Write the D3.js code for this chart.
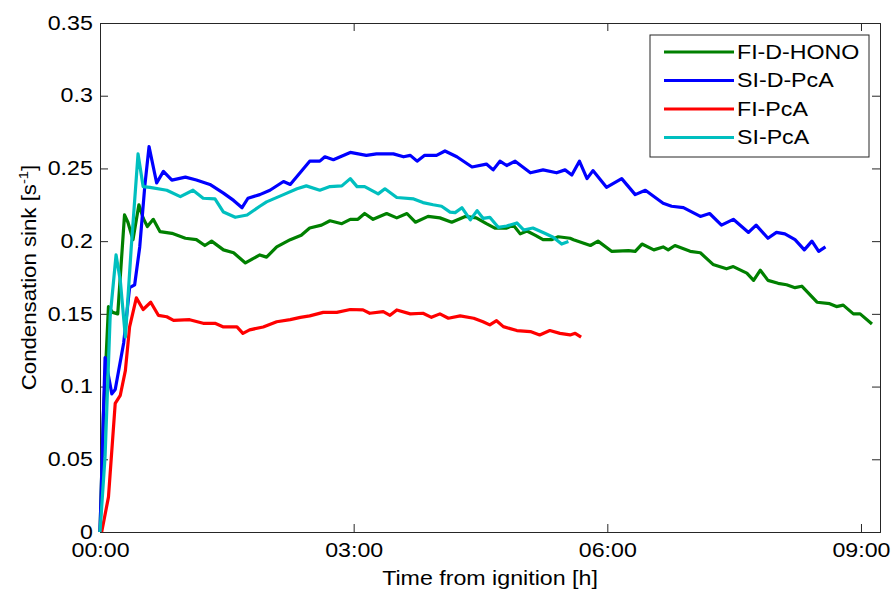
<!DOCTYPE html>
<html>
<head>
<meta charset="utf-8">
<script src="https://cdn.jsdelivr.net/npm/d3@7"></script>
<style>
  body { margin: 0; background: #fff; }
  svg text { font-family: "Liberation Sans", Arial, sans-serif; fill: #000; }
</style>
</head>
<body>
<div id="chart"></div>
<script>
// time in hours from ignition, condensation sink in s^-1
const greenT = [0, 0.04, 0.10, 0.15, 0.21, 0.29, 0.33, 0.39, 0.46, 0.51, 0.56, 0.63, 0.71, 0.85, 1.01, 1.14, 1.24, 1.32, 1.46, 1.58, 1.72, 1.81, 1.89, 1.97, 2.09, 2.25, 2.38, 2.48, 2.62, 2.72, 2.86, 2.96, 3.05, 3.13, 3.23, 3.39, 3.51, 3.63, 3.73, 3.88, 4.02, 4.16, 4.32, 4.45, 4.57, 4.67, 4.81, 4.89, 4.97, 5.05, 5.15, 5.24, 5.34, 5.42, 5.56, 5.60, 5.80, 5.89, 6.05, 6.25, 6.33, 6.41, 6.55, 6.66, 6.72, 6.80, 6.98, 7.10, 7.25, 7.41, 7.49, 7.65, 7.73, 7.81, 7.90, 8.02, 8.12, 8.22, 8.30, 8.48, 8.63, 8.71, 8.79, 8.91, 8.99, 9.13];
const greenV = [0, 0.08, 0.155, 0.151, 0.150, 0.218, 0.213, 0.201, 0.225, 0.216, 0.210, 0.215, 0.2065, 0.2054, 0.202, 0.201, 0.197, 0.200, 0.194, 0.192, 0.185, 0.188, 0.1905, 0.189, 0.196, 0.201, 0.204, 0.209, 0.211, 0.214, 0.212, 0.215, 0.215, 0.219, 0.215, 0.219, 0.216, 0.219, 0.213, 0.217, 0.216, 0.213, 0.217, 0.216, 0.212, 0.209, 0.209, 0.211, 0.205, 0.207, 0.204, 0.201, 0.201, 0.203, 0.202, 0.201, 0.197, 0.200, 0.193, 0.1935, 0.193, 0.198, 0.194, 0.196, 0.194, 0.197, 0.193, 0.192, 0.184, 0.181, 0.1825, 0.178, 0.173, 0.180, 0.173, 0.171, 0.170, 0.168, 0.169, 0.158, 0.157, 0.155, 0.156, 0.150, 0.150, 0.143];

const blueT = [0, 0.06, 0.14, 0.18, 0.28, 0.35, 0.41, 0.47, 0.53, 0.58, 0.67, 0.75, 0.85, 1.01, 1.14, 1.30, 1.46, 1.58, 1.68, 1.75, 1.89, 2.01, 2.17, 2.25, 2.48, 2.60, 2.66, 2.76, 2.96, 3.15, 3.27, 3.47, 3.59, 3.67, 3.75, 3.84, 3.98, 4.08, 4.22, 4.40, 4.57, 4.65, 4.73, 4.81, 4.91, 5.09, 5.24, 5.40, 5.50, 5.58, 5.67, 5.76, 5.83, 5.99, 6.17, 6.33, 6.45, 6.66, 6.76, 6.90, 7.10, 7.21, 7.35, 7.49, 7.67, 7.76, 7.90, 8.00, 8.10, 8.22, 8.33, 8.42, 8.50, 8.58];
const blueV = [0, 0.120, 0.095, 0.098, 0.130, 0.168, 0.170, 0.196, 0.238, 0.265, 0.240, 0.248, 0.242, 0.244, 0.242, 0.239, 0.233, 0.228, 0.223, 0.2295, 0.232, 0.235, 0.241, 0.239, 0.255, 0.255, 0.258, 0.256, 0.261, 0.259, 0.260, 0.260, 0.258, 0.259, 0.255, 0.259, 0.259, 0.262, 0.258, 0.251, 0.253, 0.249, 0.255, 0.252, 0.255, 0.247, 0.249, 0.247, 0.249, 0.2455, 0.255, 0.243, 0.2485, 0.237, 0.243, 0.232, 0.235, 0.226, 0.224, 0.223, 0.217, 0.219, 0.211, 0.215, 0.206, 0.211, 0.202, 0.206, 0.205, 0.201, 0.194, 0.200, 0.193, 0.196];

const redT = [0.02, 0.10, 0.18, 0.24, 0.30, 0.35, 0.43, 0.51, 0.60, 0.69, 0.79, 0.87, 1.06, 1.22, 1.36, 1.46, 1.62, 1.69, 1.77, 1.93, 2.09, 2.25, 2.37, 2.48, 2.64, 2.80, 2.96, 3.11, 3.19, 3.35, 3.43, 3.51, 3.67, 3.82, 3.92, 4.02, 4.12, 4.26, 4.42, 4.53, 4.61, 4.69, 4.77, 4.93, 5.09, 5.20, 5.32, 5.44, 5.56, 5.62, 5.69];
const redV = [0, 0.024, 0.0885, 0.094, 0.111, 0.141, 0.161, 0.153, 0.158, 0.149, 0.148, 0.1455, 0.146, 0.1435, 0.1435, 0.141, 0.141, 0.1366, 0.139, 0.141, 0.1446, 0.146, 0.1476, 0.1486, 0.151, 0.151, 0.153, 0.1527, 0.1504, 0.1515, 0.149, 0.1527, 0.150, 0.1504, 0.1476, 0.150, 0.147, 0.1486, 0.147, 0.1446, 0.1424, 0.1453, 0.1412, 0.1385, 0.1378, 0.1355, 0.1385, 0.1366, 0.1355, 0.1366, 0.134];

const cyanT = [0, 0.06, 0.12, 0.19, 0.24, 0.30, 0.37, 0.45, 0.51, 0.59, 0.79, 0.95, 1.10, 1.22, 1.36, 1.46, 1.60, 1.74, 1.89, 1.97, 2.17, 2.33, 2.44, 2.60, 2.72, 2.86, 2.96, 3.04, 3.13, 3.29, 3.37, 3.51, 3.71, 3.82, 3.94, 4.04, 4.14, 4.20, 4.28, 4.38, 4.46, 4.53, 4.61, 4.71, 4.81, 4.93, 5.01, 5.12, 5.26, 5.36, 5.46, 5.54];
const cyanV = [0, 0.052, 0.148, 0.1905, 0.173, 0.134, 0.196, 0.260, 0.2375, 0.237, 0.235, 0.2306, 0.235, 0.2295, 0.229, 0.220, 0.2164, 0.218, 0.224, 0.227, 0.232, 0.236, 0.238, 0.235, 0.2375, 0.238, 0.243, 0.2375, 0.2375, 0.2325, 0.236, 0.230, 0.229, 0.2265, 0.225, 0.224, 0.220, 0.2196, 0.223, 0.2146, 0.221, 0.2157, 0.2164, 0.2095, 0.2104, 0.2125, 0.2077, 0.209, 0.2054, 0.2027, 0.198, 0.1997];

const seriesNames = ['FI-D-HONO', 'SI-D-PcA', 'FI-PcA', 'SI-PcA'];
const seriesColors = ['#008000', '#0000ff', '#ff0000', '#00bfbf'];

const xTickValues = [0, 3, 6, 9];
const xTickLabels = ['00:00', '03:00', '06:00', '09:00'];
const yTickValues = [0, 0.05, 0.1, 0.15, 0.2, 0.25, 0.3, 0.35];
const yTickLabels = ['0', '0.05', '0.1', '0.15', '0.2', '0.25', '0.3', '0.35'];

const width = 893;
const height = 594;
const margin = {left: 100, right: 13, top: 23, bottom: 62};
const fontSize = '19.5px';
const stretch = 'scale(1.19,1)'; // the exported figure has slightly wide text

const svg = d3.select('#chart')
  .append('svg')
  .attr('width', width)
  .attr('height', height);

const xScale = d3.scaleLinear().domain([0, 9.225]).range([margin.left, width - margin.right]);
const yScale = d3.scaleLinear().domain([0, 0.35]).range([height - margin.bottom, margin.top]);

const axisColor = '#262626';

// axes (ticks point inward, like matlab)
const xAxis = d3.axisBottom(xScale)
  .tickValues(xTickValues)
  .tickFormat((d, i) => xTickLabels[i])
  .tickSize(-8)
  .tickPadding(11);
const yAxis = d3.axisLeft(yScale)
  .tickValues(yTickValues)
  .tickFormat((d, i) => yTickLabels[i])
  .tickSize(-8)
  .tickPadding(6);

svg.append('g')
  .attr('transform', 'translate(0,' + (height - margin.bottom) + ')')
  .call(xAxis);
svg.append('g')
  .attr('transform', 'translate(' + margin.left + ',0)')
  .call(yAxis);
svg.append('g')
  .attr('transform', 'translate(0,' + margin.top + ')')
  .call(d3.axisTop(xScale).tickValues(xTickValues).tickFormat('').tickSize(-8));
svg.append('g')
  .attr('transform', 'translate(' + (width - margin.right) + ',0)')
  .call(d3.axisRight(yScale).tickValues(yTickValues).tickFormat('').tickSize(-8));

svg.selectAll('.domain, .tick line').attr('stroke', axisColor);
svg.selectAll('.tick text')
  .style('font-size', fontSize)
  .attr('fill', '#000')
  .attr('transform', stretch);

// lines
const allSeries = [
  greenT.map((t, i) => [t, greenV[i]]),
  blueT.map((t, i) => [t, blueV[i]]),
  redT.map((t, i) => [t, redV[i]]),
  cyanT.map((t, i) => [t, cyanV[i]])
];

const line = d3.line()
  .x(d => xScale(d[0]))
  .y(d => yScale(d[1]));

svg.append('g')
  .selectAll('path')
  .data(allSeries)
  .enter()
  .append('path')
  .attr('d', line)
  .attr('fill', 'none')
  .attr('stroke', (d, i) => seriesColors[i])
  .attr('stroke-width', 3.2)
  .attr('stroke-linejoin', 'round');

// axis titles
svg.append('text')
  .attr('transform', 'translate(' + ((xScale(0) + xScale(9.225)) / 2) + ',585) ' + stretch)
  .attr('text-anchor', 'middle')
  .style('font-size', fontSize)
  .text('Time from ignition [h]');

const yTitle = svg.append('text')
  .attr('transform', 'translate(36,' + ((yScale(0) + yScale(0.35)) / 2) + ') rotate(-90) scale(1.14,1)')
  .attr('text-anchor', 'middle')
  .style('font-size', fontSize);
yTitle.append('tspan').text('Condensation sink [s');
yTitle.append('tspan').attr('dy', -8).style('font-size', '13px').text('-1');
yTitle.append('tspan').attr('dy', 8).text(']');

// legend
const legend = svg.append('g').attr('transform', 'translate(650,35)');
legend.append('rect')
  .attr('width', 219)
  .attr('height', 122)
  .attr('fill', '#fff')
  .attr('stroke', axisColor);
const items = legend.selectAll('.item')
  .data(seriesNames)
  .enter()
  .append('g')
  .attr('class', 'item')
  .attr('transform', (d, i) => 'translate(0,' + (17 + i * 28.5) + ')');
items.append('line')
  .attr('x1', 14).attr('x2', 84)
  .attr('stroke', (d, i) => seriesColors[i])
  .attr('stroke-width', 3.2);
items.append('text')
  .attr('transform', 'translate(87,0) ' + stretch)
  .attr('dy', '0.35em')
  .style('font-size', fontSize)
  .text(d => d);
</script>
</body>
</html>
